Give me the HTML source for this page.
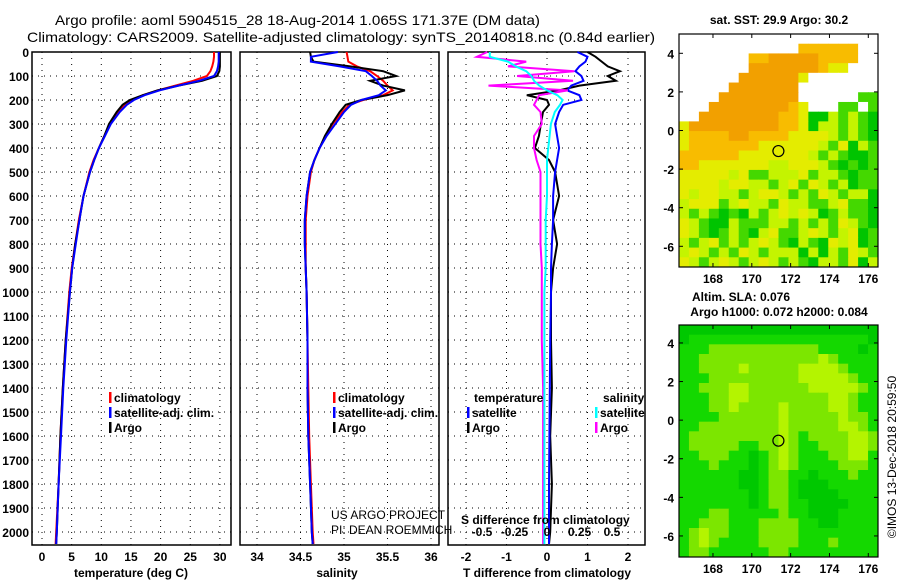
<!DOCTYPE html>
<html><head><meta charset="utf-8"><style>
body{margin:0;background:#fff;}
svg{display:block;font-family:"Liberation Sans",sans-serif;}
.b{font-weight:bold;font-size:12px;}
</style></head><body>
<svg id="c" width="900" height="580" viewBox="0 0 900 580">
<text x="55" y="25" font-size="14" textLength="485" lengthAdjust="spacingAndGlyphs">Argo profile: aoml 5904515_28 18-Aug-2014 1.065S 171.37E (DM data)</text>
<text x="27" y="42" font-size="14" textLength="628" lengthAdjust="spacingAndGlyphs">Climatology: CARS2009. Satellite-adjusted climatology: synTS_20140818.nc (0.84d earlier)</text>
<g id="g"></g>
</svg>
<script>
// ---- data ----
const depths   = [0,20,40,60,80,100,120,140,160,180,200,220,250,300,350,400,450,500,600,700,800,900,1000,1200,1400,1600,1800,2000,2050];
const tempArgo = [30.0,30.0,30.0,30.0,29.9,29.5,27.0,23.0,19.5,17.0,14.8,13.6,12.6,11.3,10.5,9.6,8.8,8.1,7.0,6.3,5.6,5.1,4.7,4.0,3.5,3.1,2.8,2.5,2.4];
const tempClim = [29.0,29.0,28.9,28.7,28.4,27.8,25.5,22.5,19.5,17.0,15.2,14.0,12.8,11.4,10.5,9.6,8.7,8.0,7.0,6.2,5.6,5.0,4.6,4.0,3.5,3.1,2.8,2.4,2.3];
const tempSat  = [29.8,29.8,29.8,29.7,29.5,29.0,26.5,23.0,19.8,17.3,15.5,14.3,13.1,11.6,10.6,9.6,8.8,8.1,7.0,6.3,5.7,5.1,4.7,4.1,3.6,3.2,2.8,2.5,2.4];
const salArgo  = [34.61,34.62,34.65,35.07,35.45,35.6,35.3,35.45,35.7,35.5,35.2,35.02,34.95,34.86,34.78,34.72,34.66,34.61,34.57,34.55,34.55,34.56,34.57,34.58,34.58,34.59,34.61,34.63,34.64];
const salClim  = [35.03,35.04,35.05,35.15,35.3,35.38,35.45,35.5,35.56,35.45,35.22,35.06,34.98,34.87,34.79,34.72,34.66,34.62,34.58,34.56,34.56,34.56,34.57,34.58,34.59,34.6,34.62,34.64,34.65];
const salSat   = [34.93,34.62,34.62,34.95,35.25,35.32,35.38,35.42,35.48,35.4,35.2,35.08,35.0,34.9,34.8,34.72,34.66,34.61,34.57,34.55,34.55,34.56,34.57,34.58,34.58,34.59,34.61,34.63,34.64];
const dTArgo   = [1.0,1.2,1.35,1.5,1.8,1.5,1.7,0.8,0.3,-0.5,0.0,0.05,-0.1,-0.15,-0.2,-0.3,0.05,0.2,0.3,0.15,0.25,0.15,0.1,0.1,0.12,0.08,0.12,0.08,0.05];
const dTSat    = [0.75,1.0,0.95,0.8,0.7,0.85,0.9,0.6,0.5,0.8,0.85,0.4,0.3,0.2,0.25,0.3,0.25,0.2,0.15,0.15,0.12,0.1,0.1,0.08,0.07,0.06,0.05,0.05,0.05];
const dSArgo   = [-0.46,-0.54,-0.16,-0.3,0.21,-0.23,0.2,-0.45,0.16,-0.06,-0.08,-0.1,-0.05,-0.04,-0.1,-0.1,-0.08,-0.05,-0.05,-0.05,-0.05,-0.04,-0.04,-0.04,-0.03,-0.03,-0.03,-0.03,-0.03];
const dSSat    = [-0.44,-0.44,-0.3,-0.24,-0.16,-0.12,-0.1,-0.06,0.0,0.08,0.12,0.1,0.06,0.03,0.02,0.01,0.0,0.0,0.0,-0.01,-0.01,-0.01,-0.02,-0.02,-0.02,-0.02,-0.02,-0.02,-0.02];
const depthTicks = [0,100,200,300,400,500,600,700,800,900,1000,1100,1200,1300,1400,1500,1600,1700,1800,1900,2000];
const tempTicks = [0,5,10,15,20,25,30];
const salTicks = [34,34.5,35,35.5,36];
const dTTicks = [-2,-1,0,1,2];
const dSTicks = [-0.5,-0.25,0,0.25,0.5];
const lonTicks = [168,170,172,174,176];
const latTicks = [4,2,0,-2,-4,-6];
const sstGrid = [
"....................",
"............OOOOOO..",
".......OOoooooOOOO..",
".......oooooooOyy...",
"......ooooooy.......",
".....ooooooo........",
"....oooooooo......gg",
"...ooooooooOy...gg.g",
"..ooooooooOOyGGlglgG",
"yoooooooooOOyGllglgG",
"yOOOOooOOOOyyyylglgG",
"yOOOOOOOyyyyyylgyGlg",
"OOOOOOyyyyyyylglgGGg",
"OOyyyyyyyllyyylgGgGg",
"yyyyylygglllygllgGgg",
"yyyylyyllglygylglGgg",
"ylyyllglyylglgylgllG",
"lyyyglyllgyllgglyggG",
"lglgGgGlglylylGglggG",
"ylgGGlgggllglglgylgG",
"ylgGglgGlygglylglyGg",
"lglyglglylgGlgGylyGg",
"lylglgylglllGlGlgylg",
"ylglylglylglgGllgyGl"];
const slaGrid = [
"GGGGGGGGGGGGGGGGGGGG",
"GggggggggggggggggggG",
"gggmmmmmmmmmmmggggGg",
"ggmmmmmmmmmmmmlmgggg",
"ggmmmmlmmmmmllllmggg",
"gggmmmmmmmmmlllllmgg",
"ggmmmllmmmmmmlllllmg",
"gggmmllmmmmmmmmllmgg",
"gggmmlmmmmlmmmmllmgg",
"ggggmmmmmmlmmmmmlmmg",
"ggmmmmmmmmlmmmmmllmg",
"gmmmmmmmmmlmgmmmmllm",
"gmmmmmggmmlmggmmmllm",
"ggmmmggGgmlmgggmmllg",
"gggmgggGgmlmggggmmmg",
"ggggggGGgmmggGgggmgg",
"ggggggGGgmmgGGGggggg",
"gggggggGgmmgGGGGgggg",
"gggggggGgmmggGGGGggg",
"gggmmgggggmggGGGgggg",
"ggmmmgggmmmmggGGgggg",
"gmlmmgggmmmmgggggggg",
"gmlmggggmmmmgggmgggg",
"gmmggggggmmggggggggg"];
const argoLon = 171.37, argoLat = -1.065;

const NS="http://www.w3.org/2000/svg";
const G=document.getElementById('g');
function el(t,a,p){const e=document.createElementNS(NS,t);for(const k in a)e.setAttribute(k,a[k]);(p||G).appendChild(e);return e;}
function tx(x,y,s,a,p){const e=el('text',Object.assign({x:x,y:y},a||{}),p);e.textContent=s;return e;}

const yTop=52, yBot=545;
const yD=d=>yTop+d*0.24;
const panels=[
 {x0:32,x1:231,f:v=>42+v*5.93,ticks:tempTicks,name:'temperature'},
 {x0:240,x1:439,f:v=>257+(v-34)*87,ticks:salTicks,name:'salinity'},
 {x0:448,x1:645,f:v=>547+v*40.5,ticks:dTTicks,name:'difference'}];
const fS=v=>547+v*130;

panels.forEach((p,i)=>{
  const g=el('g',{});
  
  
  depthTicks.forEach(d=>{const l=el('line',{x1:p.x0,x2:p.x1,y1:yD(d),y2:yD(d),stroke:'#000','stroke-dasharray':'1,5','stroke-width':1},g);
    });
  p.ticks.forEach(v=>{const x=p.f(v);const l=el('line',{x1:x,x2:x,y1:yTop,y2:yBot,stroke:'#000','stroke-dasharray':'1,5'},g);
    
    const t=tx(x,561,String(v),{class:'b','text-anchor':'middle'},g);
    });
  const r=el('rect',{x:p.x0,y:yTop,width:p.x1-p.x0,height:yBot-yTop,fill:'none',stroke:'#000','stroke-width':1.5},g);
  
});
depthTicks.forEach(d=>{const t=tx(29,yD(d)+5,String(d),{class:'b','text-anchor':'end'});
  });

function line(vals,f,col,name){
  const pts=vals.map((v,i)=>f(v).toFixed(1)+','+yD(depths[i]).toFixed(1)).join(' ');
  const e=el('polyline',{points:pts,fill:'none',stroke:col,'stroke-width':2});
  
  
}
line(tempClim,panels[0].f,'#f00','temp-climatology-line');
line(tempArgo,panels[0].f,'#000','temp-argo-line');
line(tempSat,panels[0].f,'#00f','temp-satellite-line');
line(salClim,panels[1].f,'#f00','sal-climatology-line');
line(salArgo,panels[1].f,'#000','sal-argo-line');
line(salSat,panels[1].f,'#00f','sal-satellite-line');
line(dTArgo,panels[2].f,'#000','tdiff-argo-line');
line(dTSat,panels[2].f,'#00f','tdiff-satellite-line');
line(dSArgo,fS,'#f0f','sdiff-argo-line');
line(dSSat,fS,'#0ff','sdiff-satellite-line');

dSTicks.forEach(v=>{const t=tx(fS(v),536,String(v),{class:'b','text-anchor':'middle'});
  });

function leg(x,y,col,s,name){
  const r=el('rect',{x:x,y:y-10,width:2.5,height:11,fill:col});
  
  const t=tx(x+5,y,s,{class:'b'});
  
}
leg(109,402,'#f00','climatology','legend-climatology');
leg(109,417,'#00f','satellite-adj. clim.','legend-satellite-adj');
leg(109,432,'#000','Argo','legend-argo');
leg(333,402,'#f00','climatology','legend-sal-climatology');
leg(333,417,'#00f','satellite-adj. clim.','legend-sal-satellite-adj');
leg(333,432,'#000','Argo','legend-sal-argo');
leg(467,417,'#00f','satellite','legend-tdiff-satellite');
leg(467,432,'#000','Argo','legend-tdiff-argo');
leg(595,417,'#0ff','satellite','legend-sdiff-satellite');
leg(595,432,'#f0f','Argo','legend-sdiff-argo');
let t;
t=tx(474,402,'temperature',{class:'b'});
t=tx(603,402,'salinity',{class:'b'});
t=tx(331,519,'US ARGO PROJECT',{'font-size':12});
t=tx(331,534,'PI: DEAN ROEMMICH',{'font-size':12});
t=tx(461,524,'S difference from climatology',{class:'b'});
t=tx(131,577,'temperature (deg C)',{class:'b','text-anchor':'middle'});
t=tx(337,577,'salinity',{class:'b','text-anchor':'middle'});
t=tx(547,577,'T difference from climatology',{class:'b','text-anchor':'middle'});

// ---- maps ----
const lon0=166.25, lon1=176.5;
const mx0=679, mx1=878;
const lonX=l=>mx0+(l-lon0)*(mx1-mx0)/(lon1-lon0);
const cols={'.':'#fff','O':'#f8bc00','o':'#f2a000','y':'#e4ec00','l':'#c4f400','g':'#44d800','G':'#00c400','m':'#80e400'};
const slaCols={'G':'#00c800','g':'#14d800','m':'#7ce600','l':'#b4f400'};
function map(top,bot,latTop,grid,cmap,name){
  const latY=l=>top+(latTop-l)*19.3;
  const g=el('g',{});
  
  
  const nr=grid.length,nc=grid[0].length,cw=(mx1-mx0)/nc,ch=(bot-top)/nr;
  grid.forEach((row,r)=>{for(let c=0;c<nc;c++){
    const rc=el('rect',{x:(mx0+c*cw).toFixed(2),y:(top+r*ch).toFixed(2),width:(cw+0.5).toFixed(2),height:(ch+0.5).toFixed(2),fill:cmap[row[c]]},g);
    }});
  const fr=el('rect',{x:mx0,y:top,width:mx1-mx0,height:bot-top,fill:'none',stroke:'#000','stroke-width':1.2},g);
  
  lonTicks.forEach(l=>{const x=lonX(l);
    el('line',{x1:x,x2:x,y1:top,y2:top+4,stroke:'#000'},g);el('line',{x1:x,x2:x,y1:bot,y2:bot-4,stroke:'#000'},g);
    const tl=tx(x,bot+16,String(l),{class:'b','text-anchor':'middle'},g);
    });
  latTicks.forEach(l=>{const y=latY(l);
    el('line',{x1:mx0,x2:mx0+4,y1:y,y2:y,stroke:'#000'},g);el('line',{x1:mx1,x2:mx1-4,y1:y,y2:y,stroke:'#000'},g);
    const tl=tx(674,y+5,String(l),{class:'b','text-anchor':'end'},g);
    });
  const ci=el('circle',{cx:lonX(argoLon),cy:latY(argoLat),r:5.5,fill:'none',stroke:'#000','stroke-width':1.2},g);
  
}
map(34,267,5.0,sstGrid,cols,'sst-map');
map(325,557,4.93,slaGrid,slaCols,'sla-map');
t=tx(779,24,'sat. SST: 29.9 Argo: 30.2',{class:'b','text-anchor':'middle'});
t=tx(741,301,'Altim. SLA: 0.076',{class:'b','text-anchor':'middle'});
t=tx(779,316,'Argo h1000: 0.072 h2000: 0.084',{class:'b','text-anchor':'middle'});
t=tx(0,0,'©IMOS 13-Dec-2018 20:59:50',{'font-size':12,'text-anchor':'middle',transform:'translate(896,457) rotate(-90)'});
</script>
</body></html>
